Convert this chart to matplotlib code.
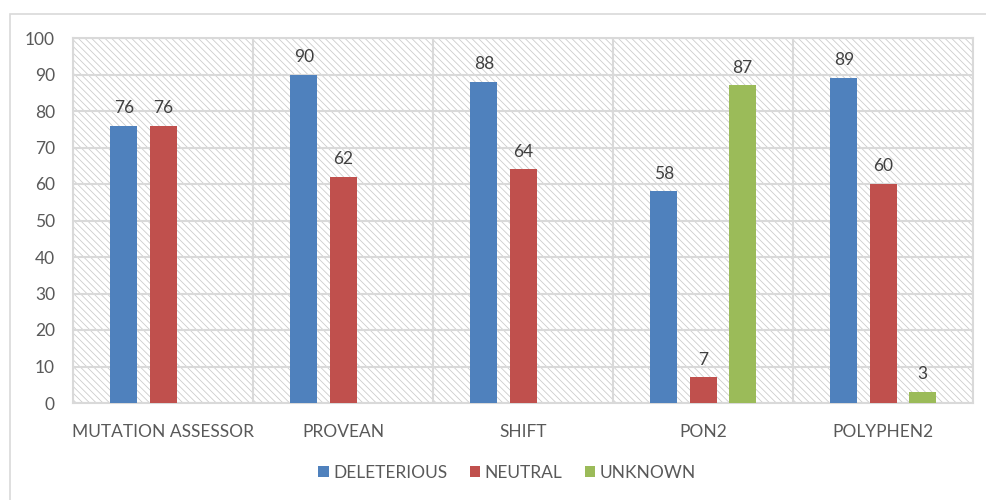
import numpy as np
import matplotlib.pyplot as plt
from matplotlib.patches import Rectangle

categories = ["MUTATION ASSESSOR", "PROVEAN", "SHIFT", "PON2", "POLYPHEN2"]
deleterious = [76, 90, 88, 58, 89]
neutral = [76, 62, 64, 7, 60]
unknown = [None, None, None, 87, 3]

series = [("DELETERIOUS", deleterious, "#4F81BD"),
          ("NEUTRAL", neutral, "#C0504D"),
          ("UNKNOWN", unknown, "#9BBB59")]

plt.rcParams['font.family'] = ['Lato', 'DejaVu Sans']
plt.rcParams['hatch.linewidth'] = 0.6
text_col = "#595959"
grid_col = "#d9d9d9"

fig = plt.figure(figsize=(9.86, 5.0), dpi=100)
# outer chart frame
fig.patches.append(Rectangle((10 / 986, -0.1), 1.2, 1 - 14 / 500 + 0.1,
                             transform=fig.transFigure, fill=False,
                             edgecolor=grid_col, linewidth=1.2))
ax = fig.add_axes([73 / 986, 97 / 500, 900 / 986, 365 / 500])

# hatched plot area background
ax.add_patch(Rectangle((0, 0), 1, 1, transform=ax.transAxes, facecolor="white",
                       edgecolor="#cccccc", hatch="\\\\\\\\\\", linewidth=0, zorder=0))

x = np.arange(len(categories))
offsets = [-0.2167, 0, 0.2167]
width = 0.15
for (name, vals, col), off in zip(series, offsets):
    xs = [xi + off for xi, v in zip(x, vals) if v is not None]
    vs = [v for v in vals if v is not None]
    bars = ax.bar(xs, vs, width, color=col, label=name, zorder=3)
    for b, v in zip(bars, vs):
        ax.annotate(str(v), (b.get_x() + b.get_width() / 2, v), xytext=(0, 7),
                    textcoords="offset points", ha="center", va="bottom",
                    fontsize=12.5, color="#404040")

ax.set_xlim(-0.5, len(categories) - 0.5)
ax.set_ylim(0, 100)
ax.set_yticks(range(0, 101, 10))
ax.set_xticks(x)
ax.set_xticklabels(categories)
ax.set_xticks(np.arange(-0.5, len(categories), 1), minor=True)
ax.grid(axis="y", color=grid_col, linewidth=1.5, zorder=1)
ax.grid(axis="x", which="minor", color=grid_col, linewidth=1.5, zorder=1)
ax.grid(axis="x", which="major", visible=False)
ax.tick_params(axis="both", which="both", length=0, colors=text_col, labelsize=12.5)
ax.tick_params(axis="x", pad=15)
ax.tick_params(axis="y", pad=13)
for s in ax.spines.values():
    s.set_color(grid_col)
    s.set_linewidth(1.5)

ax.legend(loc="center", bbox_to_anchor=(507 / 986, 27 / 500), bbox_transform=fig.transFigure,
          ncol=3, frameon=False, fontsize=12.5, labelcolor=text_col, handlelength=0.6,
          handleheight=0.6, handletextpad=0.25, columnspacing=1.3)

fig.savefig("out.png", dpi=100)
